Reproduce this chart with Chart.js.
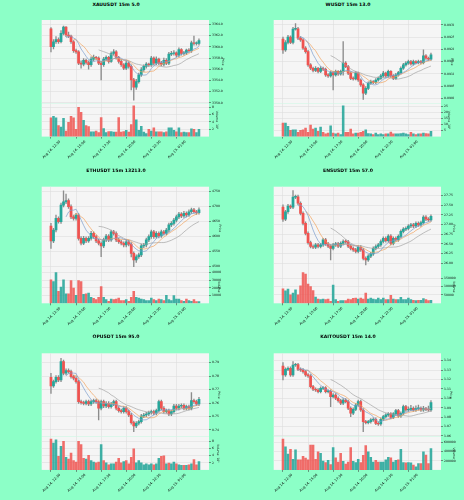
<!DOCTYPE html>
<html>
<head>
<meta charset="utf-8">
<script src="https://cdn.jsdelivr.net/npm/chart.js@4.4.1/dist/chart.umd.min.js"></script>
<style>
  html, body { margin: 0; padding: 0; background: #8cffc7; }
  #wrap { position: relative; width: 464px; height: 500px; overflow: hidden; }
  .ttl { position: absolute; font: bold 4.6px "DejaVu Sans", sans-serif; color: #000;
         transform: translate(-50%, -50%); white-space: nowrap; }
</style>
</head>
<body>
<div id="wrap"></div>
<script>
// ---- shared axis labels ----
const timeLabels = ['Aug 14, 12:30', 'Aug 14, 15:00', 'Aug 14, 17:30', 'Aug 14, 20:00', 'Aug 14, 22:30', 'Aug 15, 01:00'];
const timeTickIdx = [0, 10, 20, 30, 40, 50];
const mavPeriods = [7, 10, 20];

// ---- XAUUSDT ----
const xauOpen = [3363.2,3360.0,3360.9,3361.3,3360.9,3362.4,3363.5,3362.1,3361.9,3360.9,3359.3,3359.1,3357.1,3356.9,3357.6,3357.2,3356.8,3357.8,3358.1,3358.0,3357.1,3356.8,3357.8,3358.1,3357.4,3358.8,3359.1,3358.1,3357.4,3356.8,3356.2,3357.1,3356.5,3354.1,3352.8,3353.8,3355.0,3355.9,3356.5,3356.9,3356.8,3358.0,3357.1,3357.8,3357.1,3356.9,3357.6,3357.1,3358.7,3358.8,3358.9,3358.5,3359.5,3358.8,3358.9,3359.4,3359.3,3360.7,3360.6,3360.6];
const xauHigh = [3363.4,3361.3,3361.8,3361.6,3362.9,3363.7,3363.6,3362.6,3362.1,3361.1,3359.6,3359.3,3357.5,3357.9,3357.8,3357.5,3358.2,3358.5,3358.3,3358.2,3357.4,3358.1,3358.4,3358.3,3359.1,3359.5,3359.3,3358.3,3357.7,3357.0,3357.5,3357.3,3356.8,3354.4,3354.2,3355.3,3356.3,3356.8,3357.2,3357.1,3358.3,3358.2,3358.2,3358.0,3357.4,3358.0,3357.9,3359.0,3359.2,3359.3,3359.1,3359.8,3359.7,3359.2,3359.6,3359.7,3361.0,3361.9,3360.9,3361.4];
const xauLow = [3359.1,3359.6,3360.6,3360.6,3360.7,3362.1,3361.8,3361.6,3360.6,3359.0,3358.8,3356.8,3356.2,3356.6,3356.9,3356.0,3356.5,3357.5,3357.7,3356.8,3354.1,3356.5,3357.5,3357.1,3357.2,3358.5,3357.8,3357.1,3356.5,3355.9,3355.9,3356.2,3352.3,3350.5,3352.4,3353.5,3354.7,3355.6,3356.2,3356.5,3356.5,3356.8,3356.8,3356.8,3356.6,3356.6,3356.8,3356.8,3358.4,3358.5,3358.2,3358.2,3358.5,3358.5,3358.6,3359.0,3359.0,3360.3,3360.3,3360.3];
const xauClose = [3360.0,3360.9,3361.3,3360.9,3362.4,3363.5,3362.1,3361.9,3360.9,3359.3,3359.1,3357.1,3356.9,3357.6,3357.2,3356.8,3357.8,3358.1,3358.0,3357.1,3356.8,3357.8,3358.1,3357.4,3358.8,3359.1,3358.1,3357.4,3356.8,3356.2,3357.1,3356.5,3354.1,3352.8,3353.8,3355.0,3355.9,3356.5,3356.9,3356.8,3358.0,3357.1,3357.8,3357.1,3356.9,3357.6,3357.1,3358.7,3358.8,3358.9,3358.5,3359.5,3358.8,3358.9,3359.4,3359.3,3360.7,3360.6,3360.6,3361.1];
const xauVolume = [5100,5500,5100,3000,2600,5000,1500,3900,5500,5100,2000,8000,6600,4400,3000,2700,1300,1300,1500,1100,5200,2200,1100,1400,1400,1200,1200,5200,1200,1400,1700,1200,3300,8400,4600,1700,2800,1200,800,2000,1500,2400,1300,1300,1300,1100,1300,2400,2400,1700,1300,2400,1100,1200,1100,1100,2100,2000,1100,2000];
const xauPriceTicks = [3350, 3352, 3354, 3356, 3358, 3360, 3362, 3364];
const xauVolTicks = [2000, 4000, 6000, 8000];

// ---- WUSDT ----
const wOpen = [0.09242,0.09198,0.09228,0.09250,0.09228,0.09283,0.09284,0.09246,0.09239,0.09205,0.09191,0.09137,0.09123,0.09114,0.09123,0.09110,0.09123,0.09119,0.09096,0.09092,0.09105,0.09096,0.09110,0.09100,0.09110,0.09144,0.09130,0.09103,0.09082,0.09080,0.09103,0.09075,0.09055,0.09021,0.09041,0.09062,0.09069,0.09065,0.09075,0.09082,0.09092,0.09103,0.09092,0.09110,0.09092,0.09082,0.09096,0.09105,0.09123,0.09137,0.09144,0.09150,0.09141,0.09150,0.09146,0.09150,0.09146,0.09174,0.09164,0.09160];
const wHigh = [0.09250,0.09236,0.09257,0.09255,0.09290,0.09305,0.09290,0.09252,0.09244,0.09212,0.09196,0.09142,0.09128,0.09130,0.09127,0.09130,0.09128,0.09124,0.09101,0.09112,0.09110,0.09116,0.09114,0.09116,0.09232,0.09150,0.09135,0.09108,0.09088,0.09109,0.09107,0.09080,0.09060,0.09048,0.09068,0.09075,0.09073,0.09081,0.09088,0.09098,0.09110,0.09107,0.09116,0.09114,0.09097,0.09102,0.09111,0.09129,0.09143,0.09150,0.09156,0.09155,0.09156,0.09154,0.09156,0.09155,0.09198,0.09179,0.09169,0.09185];
const wLow = [0.09184,0.09192,0.09222,0.09223,0.09222,0.09278,0.09240,0.09233,0.09200,0.09185,0.09131,0.09117,0.09108,0.09109,0.09104,0.09105,0.09113,0.09090,0.09086,0.09087,0.09035,0.09091,0.09094,0.09095,0.09095,0.09125,0.09097,0.09076,0.09074,0.09075,0.09069,0.09049,0.08996,0.09015,0.09036,0.09057,0.09060,0.09060,0.09070,0.09077,0.09087,0.09086,0.09087,0.09086,0.09076,0.09077,0.09091,0.09100,0.09118,0.09132,0.09139,0.09136,0.09136,0.09141,0.09141,0.09141,0.09141,0.09159,0.09155,0.09155];
const wClose = [0.09198,0.09228,0.09250,0.09228,0.09283,0.09284,0.09246,0.09239,0.09205,0.09191,0.09137,0.09123,0.09114,0.09123,0.09110,0.09123,0.09119,0.09096,0.09092,0.09105,0.09096,0.09110,0.09100,0.09110,0.09144,0.09130,0.09103,0.09082,0.09080,0.09103,0.09075,0.09055,0.09021,0.09041,0.09062,0.09069,0.09065,0.09075,0.09082,0.09092,0.09103,0.09092,0.09110,0.09092,0.09082,0.09096,0.09105,0.09123,0.09137,0.09144,0.09150,0.09141,0.09150,0.09146,0.09150,0.09146,0.09174,0.09164,0.09160,0.09178];
const wVolume = [1120000,1120000,850000,520000,570000,570000,350000,520000,570000,710000,350000,960000,630000,710000,440000,790000,350000,220000,300000,900000,300000,220000,300000,160000,2540000,350000,350000,630000,220000,300000,300000,350000,440000,570000,250000,220000,160000,300000,160000,220000,160000,220000,220000,380000,220000,220000,220000,250000,300000,220000,160000,350000,220000,160000,220000,220000,300000,250000,220000,440000];
const wPriceTicks = [0.0900, 0.0905, 0.0910, 0.0915, 0.0920, 0.0925, 0.0930];
const wVolTicks = [500000, 1000000, 1500000, 2000000, 2500000];

// ---- ETHUSDT ----
const ethOpen = [4633,4584,4620,4659,4648,4703,4714,4718,4698,4664,4659,4670,4592,4576,4592,4584,4592,4609,4598,4584,4576,4567,4587,4600,4587,4614,4609,4587,4581,4576,4570,4581,4573,4542,4520,4531,4537,4567,4570,4587,4598,4614,4598,4609,4600,4614,4609,4620,4637,4642,4653,4664,4673,4667,4676,4670,4681,4687,4681,4678];
const ethHigh = [4642,4626,4670,4664,4710,4751,4740,4724,4704,4670,4676,4675,4598,4599,4597,4598,4616,4614,4603,4590,4581,4593,4606,4605,4620,4619,4614,4592,4586,4581,4587,4586,4578,4547,4537,4543,4573,4576,4593,4604,4620,4619,4615,4614,4620,4619,4626,4643,4648,4659,4670,4679,4678,4682,4681,4687,4693,4692,4686,4694];
const ethLow = [4559,4578,4614,4643,4642,4697,4708,4692,4658,4653,4653,4586,4570,4571,4578,4579,4586,4592,4578,4570,4531,4561,4581,4581,4582,4603,4581,4575,4570,4564,4564,4567,4530,4498,4512,4525,4531,4561,4564,4581,4592,4592,4593,4594,4595,4603,4604,4614,4631,4636,4647,4658,4661,4662,4664,4665,4675,4676,4672,4673];
const ethClose = [4584,4620,4659,4648,4703,4714,4718,4698,4664,4659,4670,4592,4576,4592,4584,4592,4609,4598,4584,4576,4567,4587,4600,4587,4614,4609,4587,4581,4576,4570,4581,4573,4542,4520,4531,4537,4567,4570,4587,4598,4614,4598,4609,4600,4614,4609,4620,4637,4642,4653,4664,4673,4667,4676,4670,4681,4687,4681,4678,4687];
const ethVolume = [305000,283000,399000,155000,210000,305000,124000,124000,296000,197000,103000,296000,283000,116000,124000,133000,77000,64000,47000,77000,219000,77000,47000,26000,56000,47000,56000,69000,34000,34000,47000,26000,77000,155000,77000,69000,56000,47000,34000,34000,69000,47000,34000,56000,47000,34000,103000,47000,34000,99000,56000,56000,34000,26000,56000,34000,26000,47000,21000,21000];
const ethPriceTicks = [4500, 4550, 4600, 4650, 4700, 4750];
const ethVolTicks = [100000, 200000, 300000, 400000];

// ---- ENSUSDT ----
const ensOpen = [27.45,27.14,27.33,27.48,27.45,27.71,27.72,27.55,27.29,27.03,26.77,26.53,26.43,26.41,26.47,26.43,26.47,26.60,26.50,26.44,26.38,26.47,26.50,26.44,26.51,26.56,26.55,26.44,26.38,26.34,26.30,26.41,26.34,26.12,26.08,26.18,26.24,26.38,26.43,26.47,26.56,26.64,26.58,26.70,26.51,26.64,26.60,26.69,26.82,26.88,26.90,26.96,26.99,26.96,27.03,26.99,27.05,27.19,27.14,27.12];
const ensHigh = [27.51,27.37,27.52,27.51,27.88,27.76,27.76,27.59,27.33,27.07,26.81,26.57,26.47,26.51,26.51,26.51,26.64,26.64,26.54,26.48,26.51,26.54,26.54,26.55,26.60,26.60,26.59,26.48,26.42,26.38,26.45,26.45,26.38,26.16,26.22,26.28,26.42,26.47,26.51,26.60,26.68,26.68,26.74,26.74,26.68,26.68,26.73,26.86,26.92,26.94,27.00,27.03,27.03,27.07,27.07,27.09,27.23,27.23,27.18,27.25];
const ensLow = [27.08,27.10,27.29,27.41,27.41,27.67,27.51,27.25,26.99,26.73,26.49,26.39,26.37,26.37,26.39,26.39,26.43,26.46,26.40,26.08,26.34,26.43,26.40,26.40,26.47,26.51,26.40,26.34,26.30,26.26,26.26,26.30,26.08,25.95,26.04,26.14,26.20,26.34,26.39,26.43,26.52,26.54,26.54,26.47,26.47,26.56,26.56,26.65,26.78,26.84,26.86,26.92,26.92,26.92,26.95,26.95,27.01,27.10,27.08,27.08];
const ensClose = [27.14,27.33,27.48,27.45,27.71,27.72,27.55,27.29,27.03,26.77,26.53,26.43,26.41,26.47,26.43,26.47,26.60,26.50,26.44,26.38,26.47,26.50,26.44,26.51,26.56,26.55,26.44,26.38,26.34,26.30,26.41,26.34,26.12,26.08,26.18,26.24,26.38,26.43,26.47,26.56,26.64,26.58,26.70,26.51,26.64,26.60,26.69,26.82,26.88,26.90,26.96,26.99,26.96,27.03,26.99,27.05,27.19,27.14,27.12,27.21];
const ensVolume = [87000,75000,85000,51000,61000,81000,51000,105000,184000,176000,115000,101000,77000,38000,26000,22000,26000,22000,26000,12000,109000,22000,12000,16000,16000,16000,26000,22000,30000,32000,26000,32000,26000,61000,26000,32000,26000,22000,32000,22000,32000,22000,22000,48000,26000,22000,22000,36000,22000,22000,32000,22000,18000,16000,18000,18000,28000,22000,16000,18000];
const ensPriceTicks = [26.00, 26.25, 26.50, 26.75, 27.00, 27.25, 27.50, 27.75];
const ensVolTicks = [50000, 100000, 150000];

// ---- OPUSDT ----
const opOpen = [0.7791,0.7727,0.7759,0.7791,0.7771,0.7907,0.7821,0.7841,0.7833,0.7796,0.7784,0.7759,0.7610,0.7603,0.7598,0.7610,0.7593,0.7610,0.7618,0.7610,0.7561,0.7610,0.7578,0.7598,0.7573,0.7593,0.7610,0.7561,0.7544,0.7536,0.7561,0.7536,0.7511,0.7455,0.7430,0.7450,0.7462,0.7504,0.7511,0.7519,0.7529,0.7536,0.7524,0.7544,0.7610,0.7561,0.7536,0.7544,0.7519,0.7536,0.7578,0.7561,0.7578,0.7583,0.7561,0.7573,0.7561,0.7618,0.7610,0.7593];
const opHigh = [0.7821,0.7771,0.7803,0.7803,0.7932,0.7919,0.7853,0.7853,0.7845,0.7808,0.7796,0.7771,0.7622,0.7615,0.7622,0.7622,0.7622,0.7630,0.7630,0.7622,0.7622,0.7622,0.7610,0.7610,0.7605,0.7622,0.7622,0.7573,0.7556,0.7573,0.7573,0.7548,0.7523,0.7467,0.7462,0.7474,0.7516,0.7523,0.7531,0.7541,0.7548,0.7548,0.7556,0.7622,0.7622,0.7573,0.7556,0.7556,0.7548,0.7590,0.7590,0.7590,0.7595,0.7595,0.7585,0.7585,0.7677,0.7630,0.7622,0.7643];
const opLow = [0.7672,0.7715,0.7747,0.7759,0.7759,0.7809,0.7809,0.7821,0.7784,0.7772,0.7747,0.7598,0.7591,0.7586,0.7586,0.7581,0.7581,0.7598,0.7598,0.7474,0.7549,0.7566,0.7566,0.7561,0.7561,0.7581,0.7549,0.7532,0.7524,0.7524,0.7524,0.7499,0.7443,0.7388,0.7418,0.7438,0.7450,0.7492,0.7499,0.7507,0.7517,0.7512,0.7512,0.7532,0.7549,0.7524,0.7524,0.7507,0.7507,0.7524,0.7549,0.7549,0.7566,0.7549,0.7549,0.7549,0.7549,0.7598,0.7581,0.7581];
const opClose = [0.7727,0.7759,0.7791,0.7771,0.7907,0.7821,0.7841,0.7833,0.7796,0.7784,0.7759,0.7610,0.7603,0.7598,0.7610,0.7593,0.7610,0.7618,0.7610,0.7561,0.7610,0.7578,0.7598,0.7573,0.7593,0.7610,0.7561,0.7544,0.7536,0.7561,0.7536,0.7511,0.7455,0.7430,0.7450,0.7462,0.7504,0.7511,0.7519,0.7529,0.7536,0.7524,0.7544,0.7610,0.7561,0.7536,0.7544,0.7519,0.7536,0.7578,0.7561,0.7578,0.7583,0.7561,0.7573,0.7561,0.7618,0.7610,0.7593,0.7628];
const opVolume = [860000,750000,840000,380000,660000,800000,350000,300000,470000,260000,220000,800000,710000,320000,300000,410000,260000,220000,200000,220000,710000,260000,200000,140000,170000,170000,220000,320000,200000,230000,260000,170000,350000,590000,200000,260000,200000,140000,170000,140000,170000,140000,170000,320000,380000,390000,170000,190000,170000,220000,170000,140000,130000,130000,130000,140000,170000,290000,140000,230000];
const opPriceTicks = [0.74, 0.75, 0.76, 0.77, 0.78, 0.79];
const opVolTicks = [200000, 400000, 600000, 800000];

// ---- KAITOUSDT ----
const kaitoOpen = [1.1343,1.1248,1.1308,1.1319,1.1248,1.1354,1.1357,1.1308,1.1301,1.1283,1.1248,1.1237,1.1124,1.1096,1.1088,1.1071,1.1106,1.1110,1.1071,1.1075,1.1018,1.1035,1.1000,1.0975,1.0947,1.0982,1.0965,1.0894,1.0841,1.0883,1.0929,1.0965,1.0876,1.0752,1.0742,1.0752,1.0770,1.0777,1.0734,1.0727,1.0777,1.0805,1.0823,1.0834,1.0798,1.0834,1.0869,1.0812,1.0841,1.0911,1.0876,1.0883,1.0894,1.0876,1.0890,1.0894,1.0876,1.0890,1.0883,1.0876];
const kaitoHigh = [1.1379,1.1323,1.1334,1.1334,1.1389,1.1372,1.1372,1.1323,1.1316,1.1298,1.1263,1.1252,1.1139,1.1111,1.1103,1.1121,1.1125,1.1125,1.1090,1.1090,1.1050,1.1050,1.1015,1.0990,1.0997,1.0997,1.0980,1.0909,1.0898,1.0944,1.0980,1.0980,1.0891,1.0767,1.0767,1.0785,1.0792,1.0792,1.0749,1.0792,1.0820,1.0838,1.0849,1.0849,1.0849,1.0884,1.0884,1.0856,1.0929,1.0926,1.0910,1.0925,1.0909,1.0920,1.0929,1.0909,1.0915,1.0905,1.0918,1.0975];
const kaitoLow = [1.1195,1.1233,1.1293,1.1233,1.1233,1.1339,1.1293,1.1286,1.1268,1.1233,1.1222,1.1109,1.1081,1.1073,1.1056,1.1056,1.1091,1.1056,1.1056,1.0911,1.1003,1.0985,1.0960,1.0932,1.0932,1.0950,1.0879,1.0805,1.0826,1.0868,1.0914,1.0861,1.0646,1.0727,1.0727,1.0737,1.0755,1.0719,1.0712,1.0712,1.0762,1.0790,1.0808,1.0783,1.0783,1.0819,1.0797,1.0797,1.0826,1.0861,1.0861,1.0868,1.0861,1.0861,1.0875,1.0861,1.0861,1.0868,1.0861,1.0861];
const kaitoClose = [1.1248,1.1308,1.1319,1.1248,1.1354,1.1357,1.1308,1.1301,1.1283,1.1248,1.1237,1.1124,1.1096,1.1088,1.1071,1.1106,1.1110,1.1071,1.1075,1.1018,1.1035,1.1000,1.0975,1.0947,1.0982,1.0965,1.0894,1.0841,1.0883,1.0929,1.0965,1.0876,1.0752,1.0742,1.0752,1.0770,1.0777,1.0734,1.0727,1.0777,1.0805,1.0823,1.0834,1.0798,1.0834,1.0869,1.0812,1.0841,1.0911,1.0876,1.0883,1.0894,1.0876,1.0890,1.0894,1.0876,1.0890,1.0883,1.0876,1.0954];
const kaitoVolume = [669000,504000,345000,449000,228000,435000,221000,221000,297000,255000,221000,538000,538000,228000,393000,359000,193000,159000,207000,117000,483000,262000,172000,359000,186000,124000,172000,483000,186000,159000,228000,159000,317000,531000,393000,276000,172000,207000,172000,172000,172000,221000,276000,262000,172000,207000,221000,449000,159000,152000,159000,152000,104000,69000,138000,138000,393000,324000,138000,462000];
const kaitoPriceTicks = [1.06, 1.07, 1.08, 1.09, 1.10, 1.11, 1.12, 1.13, 1.14];
const kaitoVolTicks = [200000, 400000, 600000];

// ---- styling ----
const FONT = '"DejaVu Sans", sans-serif';
const UP = '#26a69a', DOWN = '#ef5350';
const UP_VOL = 'rgba(38,166,154,0.88)', DOWN_VOL = 'rgba(239,83,80,0.85)';
const WICK = '#8c8c8c';
const FACE = '#f5f5f5', GRID = '#dedede';
const MA_COLORS = ['#7b9ccc', '#f2a35e', '#a3a3a3'];
const PLOT_W = 167.3, PRICE_H = 83.3, VOL_H = 33.3;
const X_MIN = -3.7, X_MAX = 63.0;
const colLeft = [41.7, 273.7];
const rowTop = [20, 186.7, 353.3];
const titleX = [116, 348];
const titleY = [3.5, 169.5, 336];

const panels = [
  { title: 'XAUUSDT 15m 5.0', o: xauOpen, h: xauHigh, l: xauLow, c: xauClose, v: xauVolume,
    pMin: 3349.93, pMax: 3364.77, pTicks: xauPriceTicks, pFmt: v => v.toFixed(1), pW: 16,
    vMax: 9070, vTicks: xauVolTicks, vFmt: v => String(v / 1000), vTitle: 'Volume  10\u00b3', vW: 10 },
  { title: 'WUSDT 15m 13.0', o: wOpen, h: wHigh, l: wLow, c: wClose, v: wVolume,
    pMin: 0.0898, pMax: 0.09320, pTicks: wPriceTicks, pFmt: v => v.toFixed(4), pW: 13,
    vMax: 2760000, vTicks: wVolTicks, vFmt: v => String(Math.round(v / 100000)), vTitle: 'Volume  10\u2075', vW: 10 },
  { title: 'ETHUSDT 15m 13213.0', o: ethOpen, h: ethHigh, l: ethLow, c: ethClose, v: ethVolume,
    pMin: 4486.7, pMax: 4764.4, pTicks: ethPriceTicks, pFmt: v => String(v), pW: 13,
    vMax: 433000, vTicks: ethVolTicks, vFmt: v => String(v), vTitle: 'Volume', vW: 12 },
  { title: 'ENSUSDT 15m 57.0', o: ensOpen, h: ensHigh, l: ensLow, c: ensClose, v: ensVolume,
    pMin: 25.82, pMax: 27.98, pTicks: ensPriceTicks, pFmt: v => v.toFixed(2), pW: 15,
    vMax: 200000, vTicks: ensVolTicks, vFmt: v => String(v), vTitle: 'Volume', vW: 15 },
  { title: 'OPUSDT 15m 95.0', o: opOpen, h: opHigh, l: opLow, c: opClose, v: opVolume,
    pMin: 0.7351, pMax: 0.7969, pTicks: opPriceTicks, pFmt: v => v.toFixed(2), pW: 12,
    vMax: 930000, vTicks: opVolTicks, vFmt: v => String(Math.round(v / 100000)), vTitle: 'Volume  10\u2075', vW: 11 },
  { title: 'KAITOUSDT 15m 14.0', o: kaitoOpen, h: kaitoHigh, l: kaitoLow, c: kaitoClose, v: kaitoVolume,
    pMin: 1.0593, pMax: 1.1478, pTicks: kaitoPriceTicks, pFmt: v => v.toFixed(2), pW: 12,
    vMax: 724000, vTicks: kaitoVolTicks, vFmt: v => String(v), vTitle: 'Volume', vW: 15 },
];

const wrap = document.getElementById('wrap');

// paints the light axes face behind grid and marks
const facePlugin = {
  id: 'face',
  beforeDraw(chart) {
    const { ctx, chartArea: a } = chart;
    ctx.save();
    ctx.fillStyle = FACE;
    ctx.fillRect(a.left, a.top, a.right - a.left, a.bottom - a.top);
    ctx.restore();
  }
};

function movingAverage(values, n) {
  return values.map((_, i) => i < n - 1 ? null
    : values.slice(i - n + 1, i + 1).reduce((s, x) => s + x, 0) / n);
}

function addCanvas(left, top, w, h) {
  const c = document.createElement('canvas');
  c.width = w; c.height = h;
  c.style.cssText = `position:absolute;left:${left}px;top:${top}px;width:${w}px;height:${h}px`;
  wrap.appendChild(c);
  return c;
}

function xAxis(showLabels, height) {
  return {
    type: 'linear', min: X_MIN, max: X_MAX, offset: false,
    afterBuildTicks: s => { s.ticks = timeTickIdx.map(v => ({ value: v })); },
    afterFit: s => { s.height = height; },
    grid: { offset: false, color: GRID, lineWidth: 0.6, drawTicks: showLabels, tickLength: 2, tickColor: '#444' },
    border: { display: false },
    ticks: {
      display: showLabels, autoSkip: false, minRotation: 45, maxRotation: 45,
      labelOffset: 9, padding: 1, color: '#000', font: { family: FONT, size: 3.4 },
      callback: v => timeLabels[timeTickIdx.indexOf(v)] ?? ''
    }
  };
}

function yAxis(min, max, ticks, fmt, title, width) {
  return {
    position: 'right', min, max,
    afterBuildTicks: s => { s.ticks = ticks.map(v => ({ value: v })); },
    afterFit: s => { s.width = width; },
    grid: { color: GRID, lineWidth: 0.6, tickLength: 2, tickColor: '#444' },
    border: { display: false },
    ticks: { color: '#111', padding: 1, font: { family: FONT, size: 3.1 }, callback: v => fmt(v) },
    title: { display: true, text: title, color: '#111', padding: 0, font: { family: FONT, size: 3.1 } }
  };
}

function baseOptions(pad, scales) {
  return {
    responsive: false, animation: false, events: [],
    layout: { padding: pad },
    plugins: { legend: { display: false }, tooltip: { enabled: false } },
    scales
  };
}

function drawPanel(p, plotLeft, plotTop) {
  const idx = p.c.map((_, i) => i);
  const isUp = idx.map(i => p.c[i] >= p.o[i]);

  // ---- price pane ----
  const cl = Math.floor(plotLeft) - 20;
  const padL = plotLeft - cl;
  const pTop = Math.floor(plotTop) - 4;
  const pBottom = plotTop + PRICE_H;
  const pH = Math.ceil(pBottom) + 4 - pTop;
  const cw = Math.ceil(padL + PLOT_W + p.pW);
  const padR = cw - padL - PLOT_W - p.pW;

  const mavs = mavPeriods.map(m => movingAverage(p.c, m));
  const priceCanvas = addCanvas(cl, pTop, cw, pH);
  new Chart(priceCanvas, {
    type: 'bar',
    data: {
      datasets: [
        { data: idx.map(i => ({ x: i, y: [p.l[i], p.h[i]] })), backgroundColor: WICK,
          barThickness: 0.7, grouped: false, order: 3 },
        { data: idx.map(i => ({ x: i, y: [p.o[i], p.c[i]] })),
          backgroundColor: idx.map(i => isUp[i] ? UP : DOWN),
          barThickness: 2.1, minBarLength: 0.7, grouped: false, order: 2 },
        ...mavs.map((m, k) => ({
          type: 'line', data: idx.map(i => ({ x: i, y: m[i] })), borderColor: MA_COLORS[k],
          borderWidth: 0.7, pointRadius: 0, order: 1
        }))
      ]
    },
    options: baseOptions(
      { left: padL, right: padR, top: plotTop - pTop, bottom: pTop + pH - pBottom },
      { x: xAxis(false, 0), y: yAxis(p.pMin, p.pMax, p.pTicks, p.pFmt, 'Price', p.pW) }
    ),
    plugins: [facePlugin]
  });

  // ---- volume pane ----
  const vTop = pBottom;
  const vCanvasTop = Math.floor(vTop) - 4;
  const vBottom = vTop + VOL_H;
  const vH = Math.ceil(vBottom) + 28 - vCanvasTop;
  const cwV = Math.ceil(padL + PLOT_W + p.vW);
  const padRV = cwV - padL - PLOT_W - p.vW;
  const volCanvas = addCanvas(cl, vCanvasTop, cwV, vH);
  new Chart(volCanvas, {
    type: 'bar',
    data: {
      datasets: [{
        data: idx.map(i => ({ x: i, y: p.v[i] })),
        backgroundColor: idx.map(i => isUp[i] ? UP_VOL : DOWN_VOL),
        barThickness: 1.9, grouped: false
      }]
    },
    options: baseOptions(
      { left: padL, right: padRV, top: vTop - vCanvasTop, bottom: 0 },
      { x: xAxis(true, vCanvasTop + vH - vBottom), y: yAxis(0, p.vMax, p.vTicks, p.vFmt, p.vTitle, p.vW) }
    ),
    plugins: [facePlugin]
  });
}

panels.forEach((p, k) => {
  const col = k % 2, row = Math.floor(k / 2);
  const t = document.createElement('div');
  t.className = 'ttl';
  t.textContent = p.title;
  t.style.left = titleX[col] + 'px';
  t.style.top = titleY[row] + 'px';
  wrap.appendChild(t);
  drawPanel(p, colLeft[col], rowTop[row]);
});
</script>
</body>
</html>
